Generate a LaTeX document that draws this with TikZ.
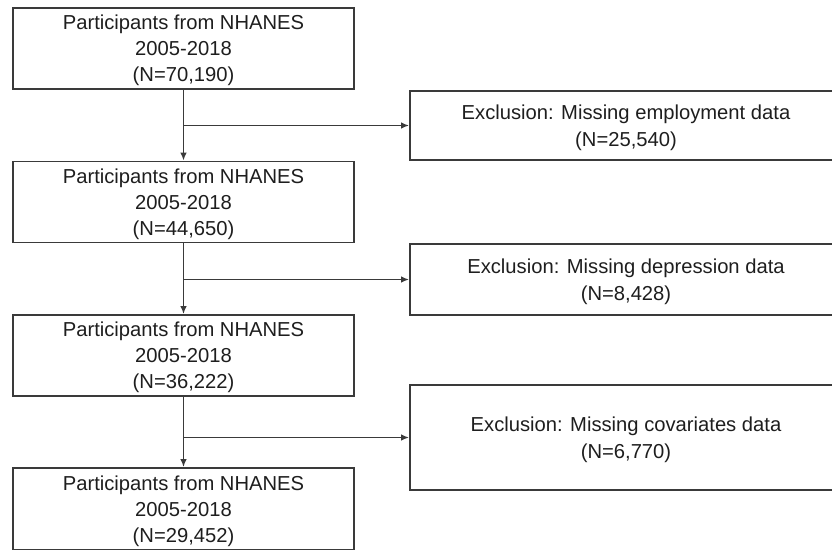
\documentclass[tikz,border=0pt]{standalone}
\usepackage{fontspec}
\setmainfont{Liberation Sans}
\usetikzlibrary{arrows.meta}
\definecolor{lc}{HTML}{3A3A3A}
\definecolor{tc}{HTML}{1E1E1E}
\newcommand{\lefttext}[1]{\raisebox{-2pt}[\height][\depth]{\begin{tabular}{@{}c@{}}#1\end{tabular}}}
\newcommand{\righttext}[1]{\raisebox{-2.5pt}[\height][\depth]{\begin{tabular}{@{}c@{}}#1\end{tabular}}}
\begin{document}
\begin{tikzpicture}[x=1pt,y=-1pt,
  lbox/.style={draw=lc,line width=1.7pt,minimum width=341pt,minimum height=81pt,inner sep=0pt,text=tc,font=\fontsize{20.2}{26}\selectfont},
  rbox/.style={draw=lc,line width=1.7pt,minimum width=432pt,inner sep=0pt,text=tc,font=\fontsize{20.2}{27}\selectfont},
  arr/.style={draw=lc,line width=1.6pt,-{Latex[length=8pt,width=6.5pt]}}]
\useasboundingbox (0,0) rectangle (832,549);
\clip (0,0) rectangle (832,549);
\node[lbox] (b1) at (183.5,48.5) {\lefttext{Participants from NHANES\\2005-2018\\(N=70,190)}};
\node[lbox] (b2) at (183.5,202) {\lefttext{Participants from NHANES\\2005-2018\\(N=44,650)}};
\node[lbox] (b3) at (183.5,355.5) {\lefttext{Participants from NHANES\\2005-2018\\(N=36,222)}};
\node[lbox,minimum height=82pt] (b4) at (183.5,509) {\lefttext{Participants from NHANES\\2005-2018\\(N=29,452)}};
\node[rbox,minimum height=69pt] (r1) at (626,125.5) {\righttext{Exclusion: Missing employment data\\(N=25,540)}};
\node[rbox,minimum height=71pt] (r2) at (626,279.5) {\righttext{Exclusion: Missing depression data\\(N=8,428)}};
\node[rbox,minimum height=105pt] (r3) at (626,437.5) {\righttext{Exclusion: Missing covariates data\\(N=6,770)}};
\draw[arr] (b1.south) -- (b2.north);
\draw[arr] (b2.south) -- (b3.north);
\draw[arr] (b3.south) -- (b4.north);
\draw[arr] (b1.south |- r1.west) -- (r1.west);
\draw[arr] (b2.south |- r2.west) -- (r2.west);
\draw[arr] (b3.south |- r3.west) -- (r3.west);
\end{tikzpicture}
\end{document}
